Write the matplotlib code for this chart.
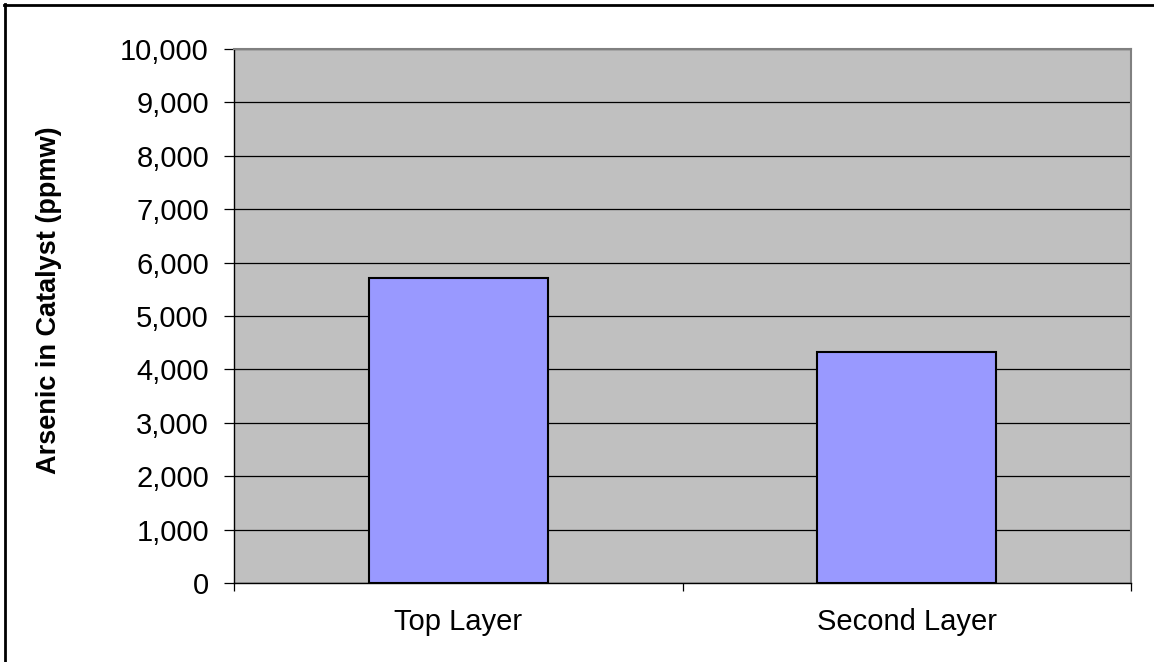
"""
Arsenic pickup in catalyst bed layers, bar chart.
"""

import matplotlib
matplotlib.use("Agg")
import matplotlib.pyplot as plt
from matplotlib.lines import Line2D
from matplotlib.ticker import FuncFormatter
import numpy as np

layers = ["Top Layer", "Second Layer"]
arsenic_ppmw = [5710, 4330]
y_ticks = list(range(0, 10001, 1000))

plt.rcParams["font.family"] = ["Liberation Sans", "DejaVu Sans"]

W, H = 1154, 662
fig = plt.figure(figsize=(W / 100, H / 100), dpi=100)
ax = fig.add_axes([234 / W, 1 - 583 / H, (1131 - 234) / W, (583 - 49) / H])
ax.set_facecolor("#C0C0C0")

x = np.arange(len(layers))
ax.bar(x, arsenic_ppmw, width=0.40, color="#9999FF", edgecolor="black",
       linewidth=1.5, zorder=3)

ax.set_xlim(-0.5, len(layers) - 0.5)
ax.set_ylim(0, 10000)
ax.set_yticks(y_ticks)
ax.yaxis.set_major_formatter(FuncFormatter(lambda v, _: f"{int(v):,}"))
ax.grid(axis="y", color="black", linewidth=0.9, zorder=1)
ax.set_axisbelow(True)

# category labels centred, tick marks between categories
ax.set_xticks(x)
ax.set_xticklabels(layers)
ax.set_xticks(np.arange(-0.5, len(layers)), minor=True)
ax.tick_params(axis="x", which="major", length=0, pad=18, labelsize=21)
ax.tick_params(axis="x", which="minor", length=6, width=0.9, direction="out")
ax.tick_params(axis="y", length=7, width=0.9, direction="out", pad=11, labelsize=21)

ax.set_ylabel("Arsenic in Catalyst (ppmw)", fontsize=19.5, fontweight="bold")
ax.yaxis.set_label_coords(-0.192, 0.53)

for side in ("left", "bottom"):
    ax.spines[side].set_color("black")
    ax.spines[side].set_linewidth(1.0)
for side in ("top", "right"):
    ax.spines[side].set_color("#808080")
    ax.spines[side].set_linewidth(1.5)

# frame lines along the top and left edges of the figure
fig.add_artist(Line2D([4 / W, 1], [1 - 5 / H, 1 - 5 / H], color="black", linewidth=2,
                      transform=fig.transFigure))
fig.add_artist(Line2D([5 / W, 5 / W], [0, 1 - 4 / H], color="black", linewidth=2,
                      transform=fig.transFigure))

fig.savefig("out.png", dpi=100)
